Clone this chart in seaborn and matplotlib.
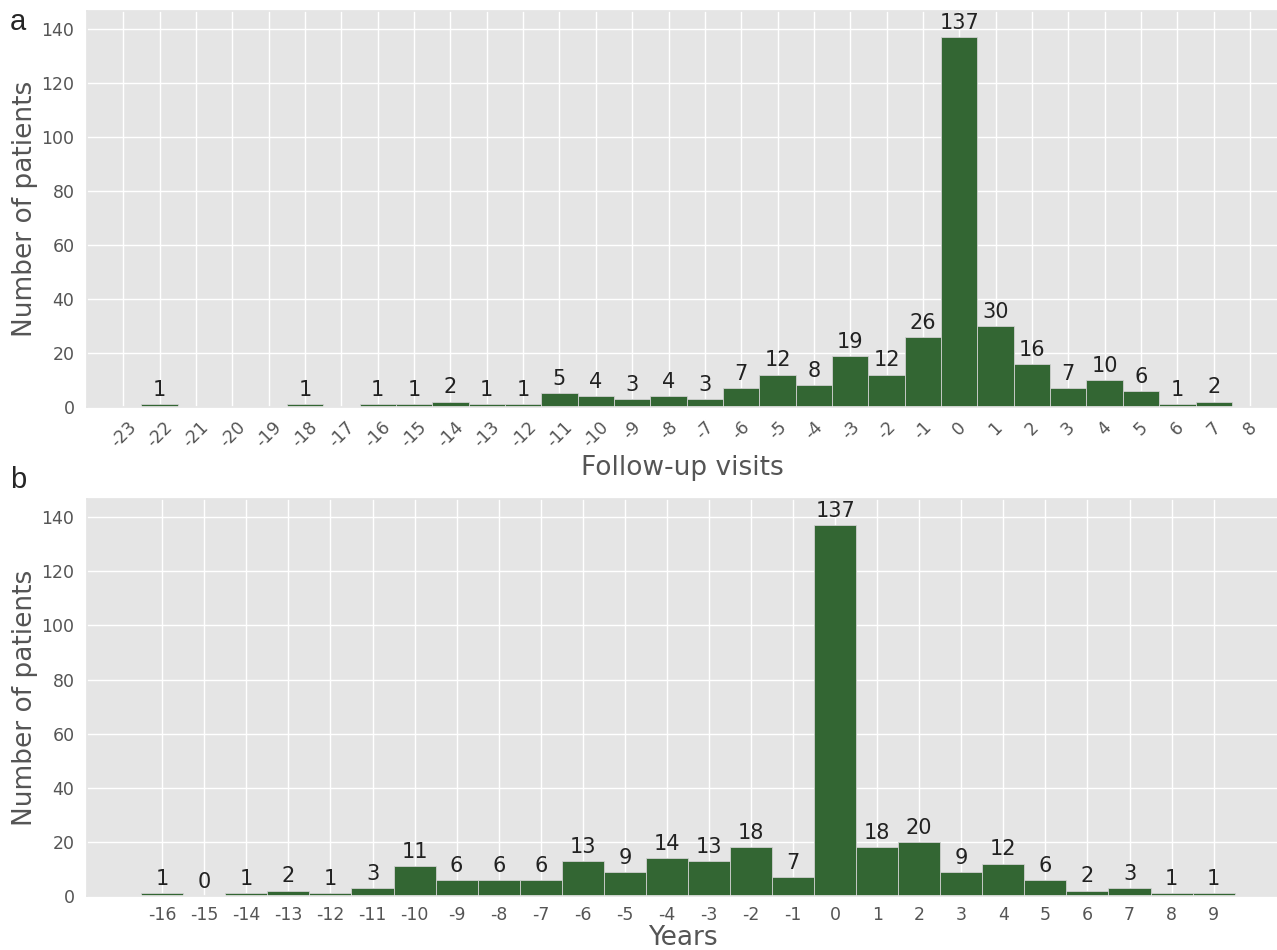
import matplotlib
matplotlib.use("Agg")
import matplotlib.pyplot as plt
import seaborn as sns
import pandas as pd

# Panel a: patients per follow-up visit offset
visits = [-22, -18, -16, -15, -14, -13, -12, -11, -10, -9, -8, -7, -6, -5,
          -4, -3, -2, -1, 0, 1, 2, 3, 4, 5, 6, 7]
visit_counts = [1, 1, 1, 1, 2, 1, 1, 5, 4, 3, 4, 3, 7, 12,
                8, 19, 12, 26, 137, 30, 16, 7, 10, 6, 1, 2]
visit_ticks = list(range(-23, 9))

# Panel b: patients per year offset
years = [-16, -15, -14, -13, -12, -11, -10, -9, -8, -7, -6, -5, -4, -3,
         -2, -1, 0, 1, 2, 3, 4, 5, 6, 7, 8, 9]
year_counts = [1, 0, 1, 2, 1, 3, 11, 6, 6, 6, 13, 9, 14, 13,
               18, 7, 137, 18, 20, 9, 12, 6, 2, 3, 1, 1]
year_ticks = list(range(-16, 10))

BAR = "#336633"
GRAY = "#555555"

sns.set_theme(style="darkgrid", rc={
    "axes.facecolor": "#E5E5E5",
    "axes.edgecolor": "#E5E5E5",
    "grid.color": "white",
    "grid.linewidth": 1.0,
    "xtick.color": GRAY,
    "ytick.color": GRAY,
    "axes.labelcolor": GRAY,
    "xtick.major.size": 0,
    "ytick.major.size": 0,
    "figure.facecolor": "white",
})
plt.rcParams["font.family"] = ["DejaVu Sans"]

fig = plt.figure(figsize=(12.77, 9.5), dpi=100)
ax_a = fig.add_axes([0.0681, 0.5716, 0.9330, 0.4168])
ax_b = fig.add_axes([0.0681, 0.0568, 0.9330, 0.4179])

df_a = pd.DataFrame({"visit": visits, "patients": visit_counts})
df_b = pd.DataFrame({"year": years, "patients": year_counts})

sns.barplot(data=df_a, x="visit", y="patients", native_scale=True, width=1,
            color=BAR, saturation=1, edgecolor="#d0d0d0", linewidth=0.6,
            ax=ax_a)
sns.barplot(data=df_b, x="year", y="patients", native_scale=True, width=1,
            color=BAR, saturation=1, edgecolor="#d0d0d0", linewidth=0.6,
            ax=ax_b)

for ax, counts in ((ax_a, visit_counts), (ax_b, year_counts)):
    ax.bar_label(ax.containers[0], labels=[str(c) for c in counts],
                 padding=3, fontsize=15, color="#222222")
    ax.set_ylim(0, 146.7)
    ax.set_yticks(range(0, 141, 20))
    ax.tick_params(axis="y", labelsize=12.5, pad=9)
    ax.set_ylabel("Number of patients", fontsize=19, labelpad=2.5)
    ax.grid(True, color="white", linewidth=1.0)
    ax.set_axisbelow(True)

ax_a.set_xlim(-24.0, 8.78)
ax_a.set_xticks(visit_ticks)
ax_a.set_xticklabels([str(t) for t in visit_ticks], rotation=45)
ax_a.tick_params(axis="x", labelsize=12.5, pad=8)
ax_a.set_xlabel("Follow-up visits", fontsize=19, labelpad=3)

ax_b.set_xlim(-17.79, 10.54)
ax_b.set_xticks(year_ticks)
ax_b.set_xticklabels([str(t) for t in year_ticks])
ax_b.tick_params(axis="x", labelsize=12.5, pad=7)
ax_b.set_xlabel("Years", fontsize=19, labelpad=1)

fig.text(0.008, 0.977, "a", fontsize=21, family="Liberation Sans",
         ha="left", va="center")
fig.text(0.008, 0.495, "b", fontsize=21, family="Liberation Sans",
         ha="left", va="center")

fig.savefig("out.png", dpi=100)
